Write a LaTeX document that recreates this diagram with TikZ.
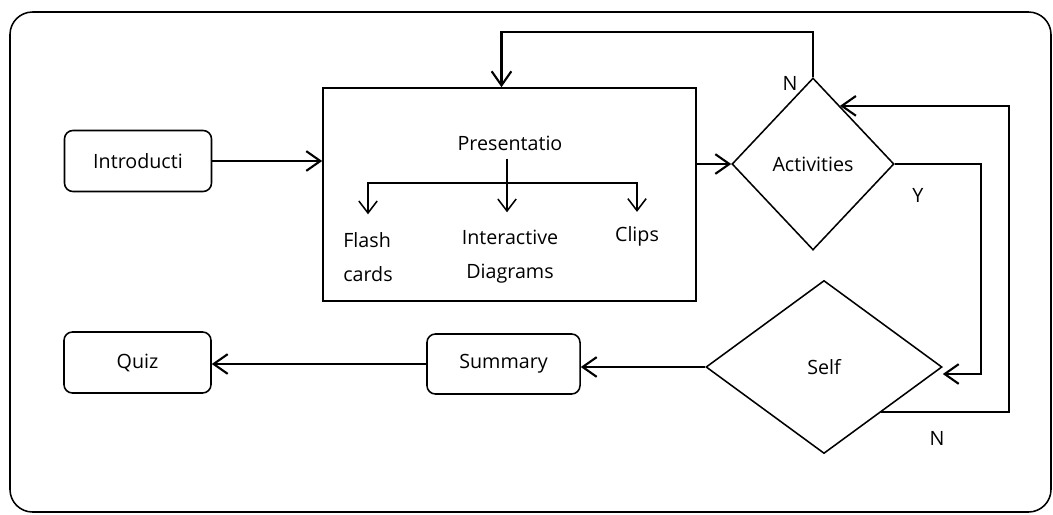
\documentclass[tikz,border=0pt]{standalone}
\usepackage{fontspec}
\setmainfont{Open Sans}
\usetikzlibrary{arrows.meta,shapes.geometric,calc}

\begin{document}
\begin{tikzpicture}[
    x=0.025cm,y=-0.025cm,
    every node/.style={font=\fontsize{14}{24}\selectfont},
    stage/.style={draw, line width=1.1pt, rounded corners=6pt, minimum width=3.675cm, minimum height=1.525cm, inner sep=0pt},
    decide/.style={draw, diamond, line width=1.1pt, inner sep=0pt},
    item/.style={inner sep=0pt},
    flow/.style={-{Straight Barb[length=10pt,width=14pt]}, line width=1.5pt},
    subflow/.style={-{Straight Barb[length=8.5pt,width=13pt]}, line width=1.1pt},
    twoflow/.style={{Straight Barb[length=8.5pt,width=13pt]}-{Straight Barb[length=8.5pt,width=13pt]}, line width=1.1pt}
  ]
    \useasboundingbox (0,0) rectangle (1053,514);
    \draw[line width=1.1pt, rounded corners=16pt] (10,12) rectangle (1051,512);

    \node[stage] (intro) at (138,161) {Introducti};
    \node[draw, line width=1.1pt, minimum width=9.325cm, minimum height=5.325cm] (pres) at (509.5,194.5) {};
    \node[item] (prestxt) at (510,143) {Presentatio};
    \node[item, align=left] (flash) at (368,257) {Flash\\cards};
    \node[item, align=center] (inter) at (510,257) {Interactive\\Diagrams};
    \node[item] (clips) at (637,236) {Clips};
    \coordinate (split) at (507,183);

    \node[decide, minimum width=4.05cm, minimum height=4.3cm] (act) at (813,164) {Activities};
    \node[decide, minimum width=5.9cm, minimum height=4.325cm] (self) at (824,367) {Self};
    \node[stage, minimum width=3.825cm, minimum height=1.5cm] (sum) at (503.5,364) {Summary};
    \node[stage] (quiz) at (137.5,362.5) {Quiz};

    \node (nact) at (790,83) {N};
    \node (yact) at (918,195) {Y};
    \node (nself) at (937,438) {N};

    \coordinate (selfout) at ($(self.east)!0.52!(self.south)$);
    \coordinate (actin) at ($(act.north)!0.33!(act.east)$);
    \coordinate (loop) at (1009,0);

    % inside the presentation box
    \draw[subflow] ([yshift=-0.2cm]prestxt.south -| split) -- ([yshift=0.45cm]split |- inter.north);
    \draw[twoflow] ([yshift=0.45cm]flash.north) |- (split) -| ([yshift=0.35cm]clips.north);

    % main flow
    \draw[flow] (intro.east) -- (intro.east -| pres.west);
    \draw[flow] (pres.east |- act.west) -- (act.west);
    \draw[flow] (act.north) -- ++(0,-45) -| ([xshift=-0.2cm]pres.north);
    \draw[flow] (act.east) -- ++(86,0) |- ([yshift=-0.175cm]self.east);
    \draw[flow] (selfout) -| (loop |- actin) -- (actin);
    \draw[flow] (self.west) -- (self.west -| sum.east);
    \draw[flow] (sum.west) -- (sum.west -| quiz.east);
  \end{tikzpicture}
\end{document}
